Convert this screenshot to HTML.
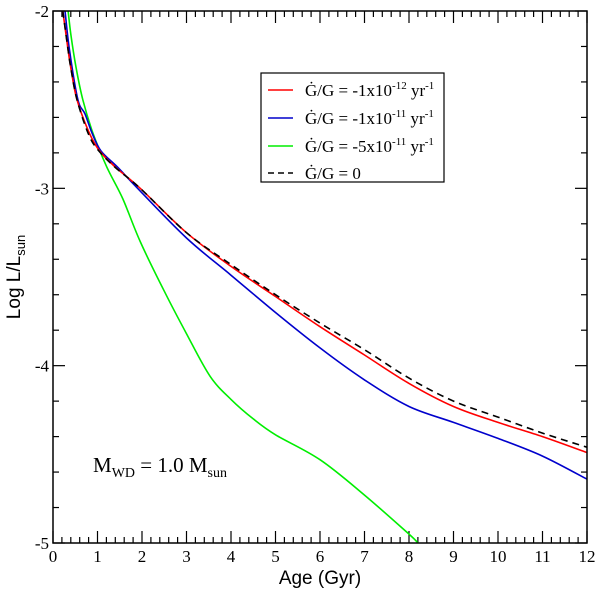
<!DOCTYPE html>
<html><head><meta charset="utf-8"><style>
body{margin:0;background:#fff;}
svg{display:block;}
.serif{font-family:"Liberation Serif",serif;}
.sans{font-family:"Liberation Sans",sans-serif;}
</style></head><body>
<svg id="chart" width="600" height="592" viewBox="0 0 600 592" xmlns="http://www.w3.org/2000/svg">
<g id="ticks"></g>
<g id="series"></g>
<rect x="53" y="11" width="534" height="532" fill="none" stroke="#000" stroke-width="1.5"/>
<g id="labels"></g>
<text class="sans" x="320" y="584" font-size="19" text-anchor="middle">Age (Gyr)</text>
<text class="sans" transform="translate(20,277) rotate(-90)" font-size="19" text-anchor="middle">Log L/L<tspan font-size="13" dy="5">sun</tspan></text>
<text class="serif" x="93" y="472" font-size="21">M<tspan font-size="14" dy="5">WD</tspan><tspan dy="-5"> = 1.0 M</tspan><tspan font-size="14" dy="5">sun</tspan></text>
<g>
<rect x="261" y="73" width="183" height="109" fill="#fff" stroke="#000" stroke-width="1.2"/>
<g><line x1="268" y1="90" x2="293" y2="90" stroke="#ff0000" stroke-width="1.5"/><text class="serif" x="305" y="96" font-size="17">Ġ/G = -1x10<tspan font-size="11" dy="-7">-12</tspan><tspan dy="7"> yr</tspan><tspan font-size="11" dy="-7">-1</tspan></text></g>
<g><line x1="268" y1="118" x2="293" y2="118" stroke="#0000cc" stroke-width="1.5"/><text class="serif" x="305" y="124" font-size="17">Ġ/G = -1x10<tspan font-size="11" dy="-7">-11</tspan><tspan dy="7"> yr</tspan><tspan font-size="11" dy="-7">-1</tspan></text></g>
<g><line x1="268" y1="146" x2="293" y2="146" stroke="#00ee00" stroke-width="1.5"/><text class="serif" x="305" y="152" font-size="17">Ġ/G = -5x10<tspan font-size="11" dy="-7">-11</tspan><tspan dy="7"> yr</tspan><tspan font-size="11" dy="-7">-1</tspan></text></g>
<g><line x1="268" y1="173" x2="293" y2="173" stroke="#000" stroke-width="1.5" stroke-dasharray="6,4"/><text class="serif" x="305" y="179" font-size="17">Ġ/G = 0</text></g>
</g>
</svg>
<script>
const xTicks=[0,1,2,3,4,5,6,7,8,9,10,11,12];
const yTicks=[-2,-3,-4,-5];
const ageRed=[0.22,0.34,0.4,0.54,0.82,1.05,1.4,1.96,3,4,5,6,7,8,9,10,11,12];
const lumRed=[-2,-2.22,-2.32,-2.5,-2.69,-2.79,-2.88,-3.0,-3.25,-3.44,-3.61,-3.78,-3.94,-4.10,-4.23,-4.32,-4.40,-4.49];
const ageBlue=[0.27,0.37,0.56,0.72,0.88,1.08,1.45,1.9,3,4,5,6,7,8,9,10,11,12];
const lumBlue=[-2,-2.22,-2.5,-2.58,-2.69,-2.79,-2.88,-3.0,-3.28,-3.49,-3.70,-3.90,-4.08,-4.23,-4.32,-4.41,-4.51,-4.64];
const ageGreen=[0.34,0.4,0.52,0.67,0.9,1.21,1.57,1.96,2.5,3,3.53,4,4.5,5,6,7,8,8.2];
const lumGreen=[-2,-2.13,-2.32,-2.5,-2.69,-2.88,-3.06,-3.3,-3.58,-3.82,-4.06,-4.19,-4.30,-4.39,-4.53,-4.73,-4.95,-5];
const ageDash=[0.22,0.34,0.4,0.54,0.79,1.0,1.39,1.96,3,4,5,6,7,8,9,10,11,12];
const lumDash=[-2,-2.22,-2.32,-2.5,-2.69,-2.78,-2.88,-3.0,-3.25,-3.43,-3.60,-3.76,-3.91,-4.07,-4.2,-4.29,-4.38,-4.46];
const X0=53,X1=587,Y0=11,Y1=543;
function sx(a){return X0+(a-0)/12*(X1-X0);}
function sy(l){return Y0+(-2-l)/3*(Y1-Y0);}
const NS="http://www.w3.org/2000/svg";
const tg=document.getElementById('ticks');
function ln(x1,y1,x2,y2){const e=document.createElementNS(NS,'line');e.setAttribute('x1',x1);e.setAttribute('y1',y1);e.setAttribute('x2',x2);e.setAttribute('y2',y2);e.setAttribute('stroke','#000');e.setAttribute('stroke-width','1.2');tg.appendChild(e);}
for(let i=0;i<=60;i++){const a=i/5,x=sx(a),L=(i%5==0)?12:6;ln(x,Y1,x,Y1-L);ln(x,Y0,x,Y0+L);}
for(let i=0;i<=15;i++){const l=-2-i/5,y=sy(l),L=(i%5==0)?12:6;ln(X0,y,X0+L,y);ln(X1,y,X1-L,y);}
const lg=document.getElementById('labels');
xTicks.forEach(v=>{const t=document.createElementNS(NS,'text');t.setAttribute('x',sx(v));t.setAttribute('y',Y1+19);t.setAttribute('text-anchor','middle');t.setAttribute('font-size','17');t.setAttribute('class','serif');t.textContent=v;


lg.appendChild(t);});
yTicks.forEach(v=>{const t=document.createElementNS(NS,'text');t.setAttribute('x',X0-4);t.setAttribute('y',sy(v)+6);t.setAttribute('text-anchor','end');t.setAttribute('font-size','17');t.setAttribute('class','serif');t.textContent=v;


lg.appendChild(t);});
const sg=document.getElementById('series');
function smooth(pts){let d='M'+pts[0][0].toFixed(1)+','+pts[0][1].toFixed(1);
for(let i=0;i<pts.length-1;i++){const p0=pts[Math.max(0,i-1)],p1=pts[i],p2=pts[i+1],p3=pts[Math.min(pts.length-1,i+2)];
const c1=[p1[0]+(p2[0]-p0[0])/6,p1[1]+(p2[1]-p0[1])/6],c2=[p2[0]-(p3[0]-p1[0])/6,p2[1]-(p3[1]-p1[1])/6];
d+=' C'+c1.map(v=>v.toFixed(1)).join(',')+' '+c2.map(v=>v.toFixed(1)).join(',')+' '+p2[0].toFixed(1)+','+p2[1].toFixed(1);}
return d;}
function path(ax,ly,color,name,dash){const p=document.createElementNS(NS,'path');p.setAttribute('d',smooth(ax.map((a,i)=>[sx(a),sy(ly[i])])));p.setAttribute('fill','none');p.setAttribute('stroke',color);p.setAttribute('stroke-width','1.6');p.setAttribute('stroke-linejoin','round');if(dash)p.setAttribute('stroke-dasharray',dash);


sg.appendChild(p);}
path(ageGreen,lumGreen,'#00ee00','series-green');
path(ageBlue,lumBlue,'#0000cc','series-blue');
path(ageRed,lumRed,'#ff0000','series-red');
path(ageDash,lumDash,'#000','series-dashed','7,5');
</script>
</body></html>
